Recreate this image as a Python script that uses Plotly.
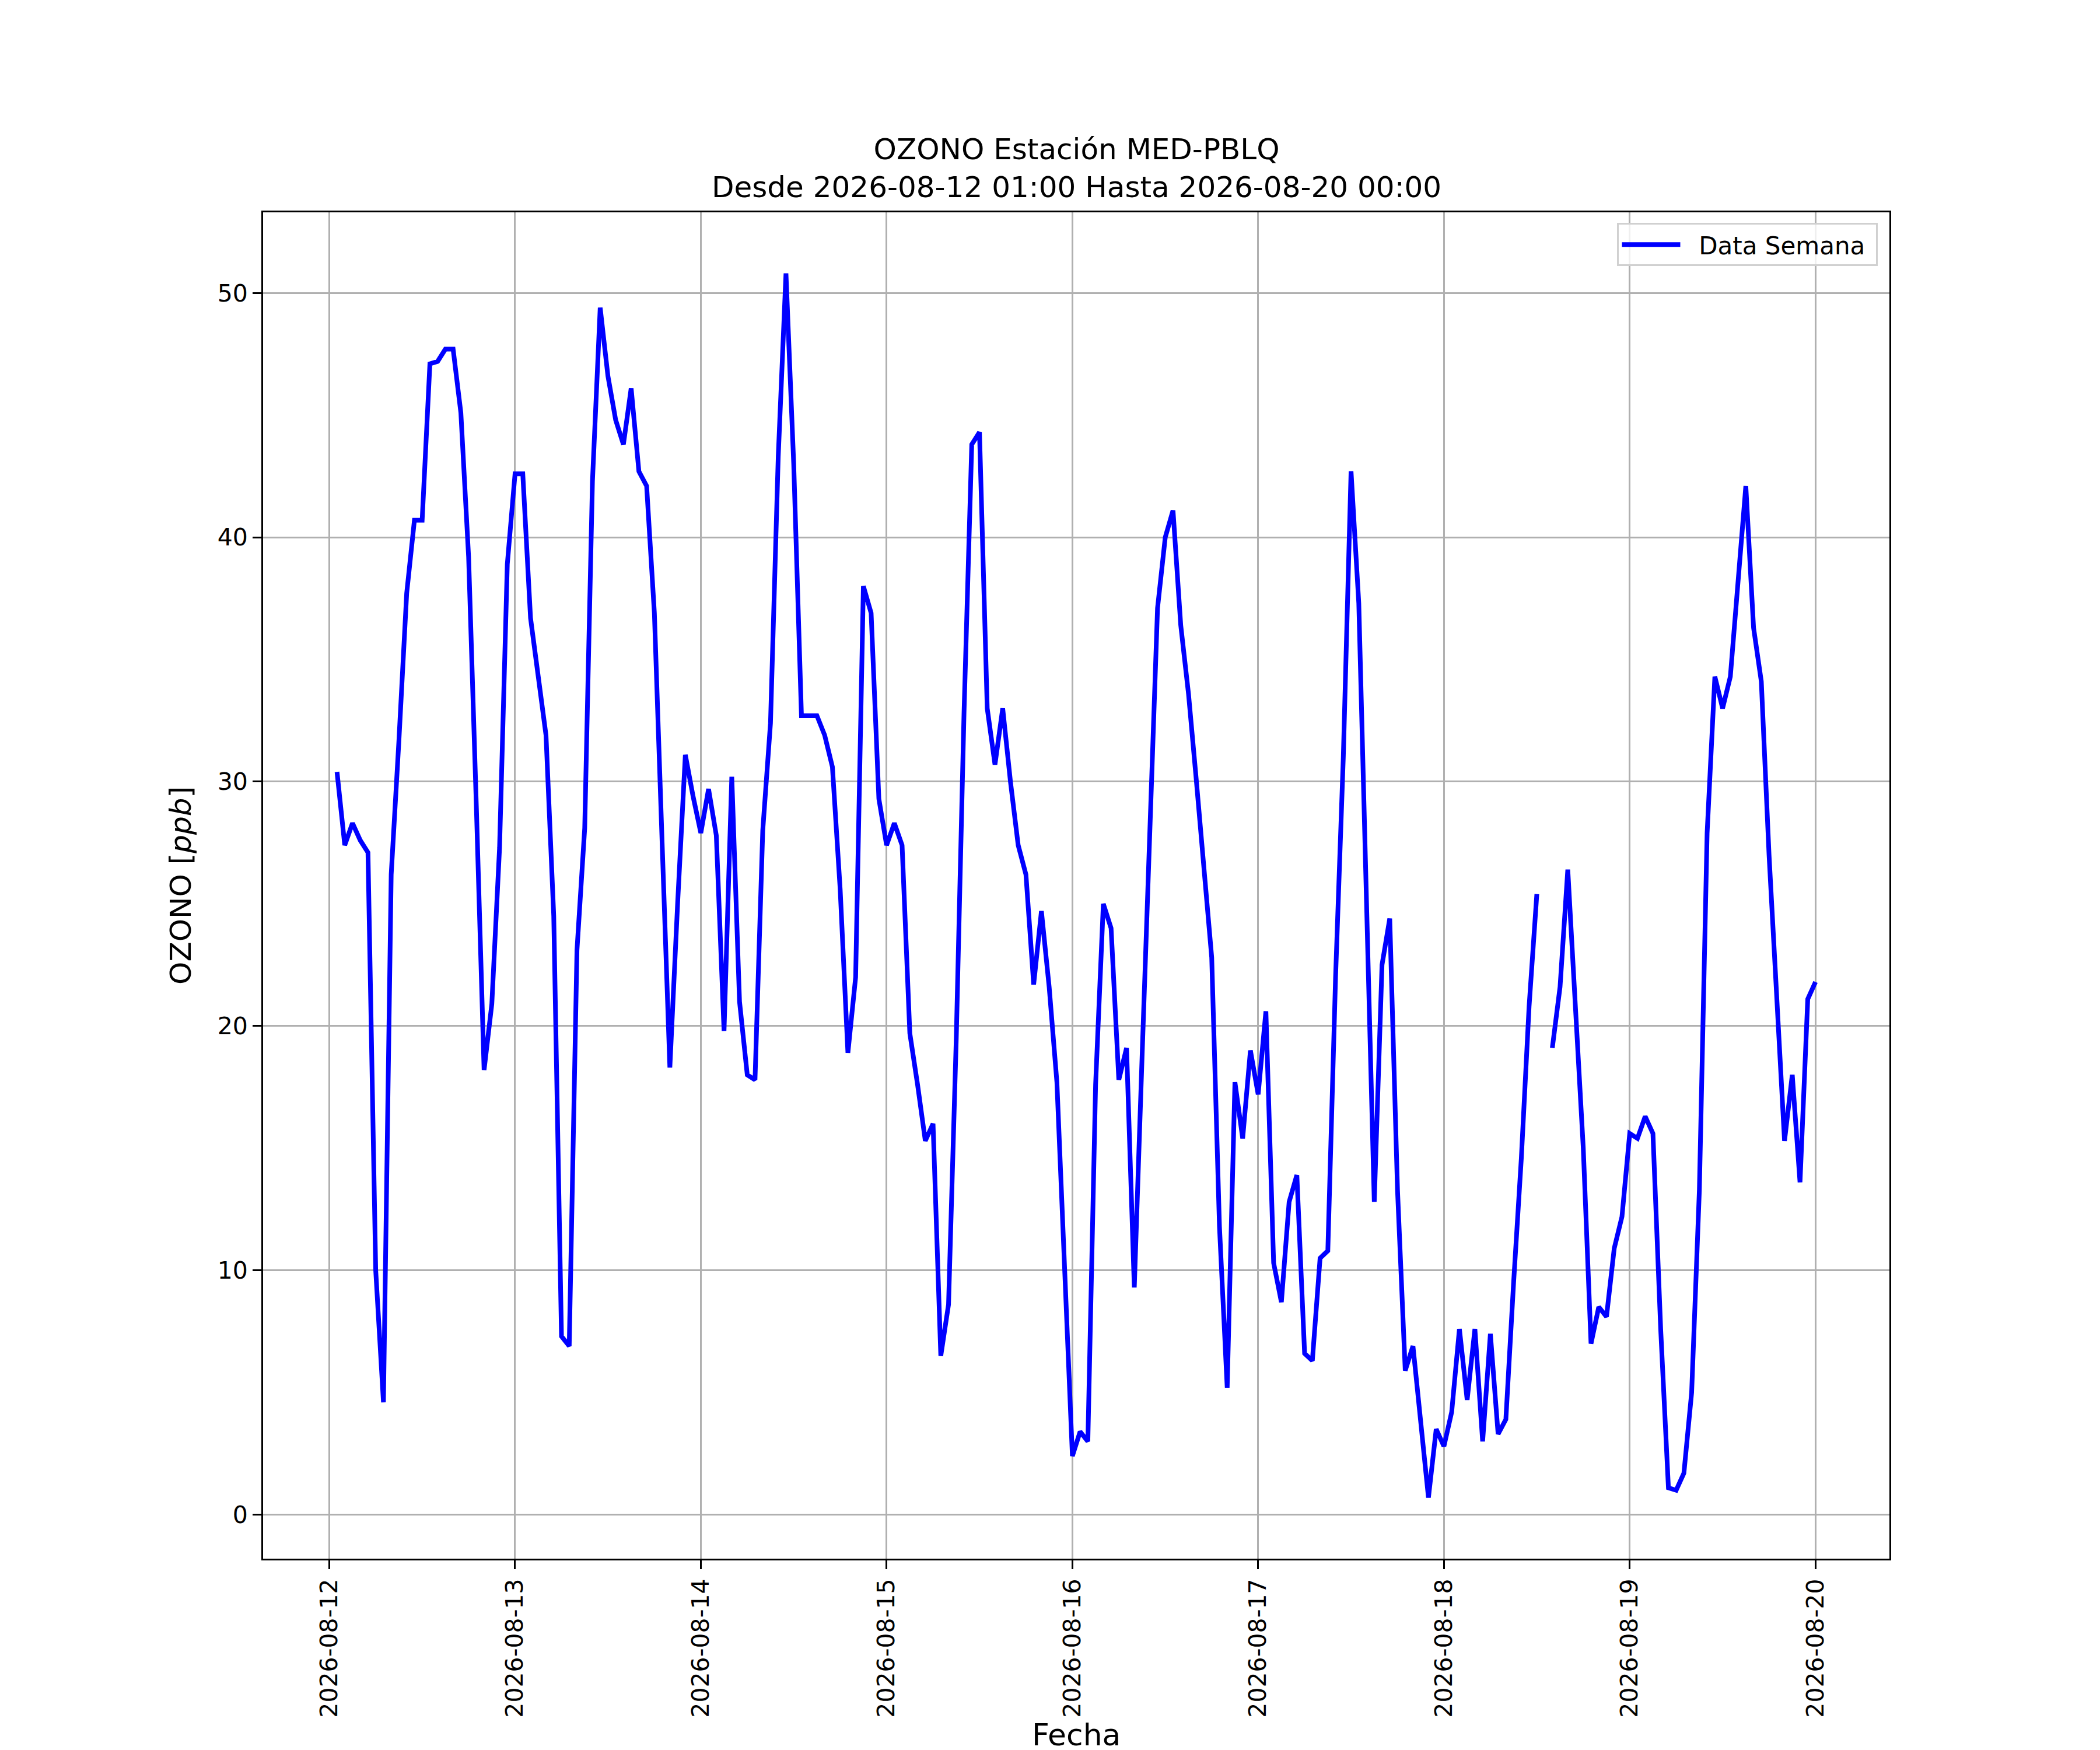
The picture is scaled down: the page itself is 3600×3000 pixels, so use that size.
import plotly.graph_objects as go
import pandas as pd

start = "2026-08-12 01:00"
# Hourly ozone values (ppb) from 2026-08-12 01:00 to 2026-08-20 00:00
day12 = [30.4, 27.4, 28.3, 27.6, 27.1, 10.0, 4.6, 26.2, 31.7, 37.7, 40.7, 40.7,
         47.1, 47.2, 47.7, 47.7, 45.1, 39.2, 29.0, 18.2, 20.9, 27.3, 38.9]
day13 = [42.6, 42.6, 36.7, 34.3, 31.9, 24.5, 7.3, 6.9, 23.1, 28.1, 42.3, 49.4,
         46.6, 44.8, 43.8, 46.1, 42.7, 42.1, 36.9, 27.5, 18.3, 25.0, 31.1, 29.4]
day14 = [27.9, 29.7, 27.8, 19.8, 30.2, 21.0, 18.0, 17.8, 28.0, 32.4, 43.3, 50.8,
         43.0, 32.7, 32.7, 32.7, 31.9, 30.6, 25.6, 18.9, 22.0, 38.0, 36.9, 29.3]
day15 = [27.4, 28.3, 27.4, 19.7, 17.6, 15.3, 16.0, 6.5, 8.6, 19.5, 32.8, 43.8,
         44.3, 33.0, 30.7, 33.0, 30.0, 27.4, 26.2, 21.7, 24.7, 21.6, 17.7, 10.1]
day16 = [2.4, 3.4, 3.0, 17.6, 25.0, 24.0, 17.8, 19.1, 9.3, 18.7, 27.9, 37.1,
         40.0, 41.1, 36.4, 33.6, 30.1, 26.5, 22.8, 11.8, 5.2, 17.7, 15.4, 19.0]
day17 = [17.2, 20.6, 10.3, 8.7, 12.8, 13.9, 6.6, 6.3, 10.5, 10.8, 22.0, 31.0,
         42.7, 37.3, 24.5, 12.8, 22.5, 24.4, 13.3, 5.9, 6.9, 3.7, 0.7, 3.5]
day18 = [2.8, 4.2, 7.6, 4.7, 7.6, 3.0, 7.4, 3.3, 3.9, 9.5, 14.6, 20.8,
         25.4, None, 19.1, 21.6, 26.4, 20.9, 15.0, 7.0, 8.5, 8.1, 10.9, 12.2]
day19 = [15.6, 15.4, 16.3, 15.6, 7.6, 1.1, 1.0, 1.7, 5.0, 13.3, 27.9, 34.3,
         33.0, 34.3, 38.0, 42.1, 36.3, 34.1, 27.0, 20.8, 15.3, 18.0, 13.6, 21.1]
day20 = [21.8]

values = day12 + day13 + day14 + day15 + day16 + day17 + day18 + day19 + day20
times = pd.date_range(start, periods=len(values), freq="h")

tick_dates = ["2026-08-12", "2026-08-13", "2026-08-14", "2026-08-15", "2026-08-16",
              "2026-08-17", "2026-08-18", "2026-08-19", "2026-08-20"]
y_ticks = [0, 10, 20, 30, 40, 50]

FONT = "DejaVu Sans"
fig = go.Figure()
fig.add_trace(go.Scatter(x=times, y=values, mode="lines", name="  Data Semana ",
                         line=dict(color="#0000ff", width=8), connectgaps=False))

fig.update_layout(
    width=3600, height=3000,
    paper_bgcolor="white", plot_bgcolor="white",
    margin=dict(l=443, r=369, t=356, b=336),
    font=dict(family=FONT, size=41, color="black"),
    showlegend=True,
    legend=dict(x=0.993, y=0.992, xanchor="right", yanchor="top",
                bgcolor="rgba(255,255,255,0.8)", bordercolor="#d0d0d0", borderwidth=3,
                itemwidth=100, tracegroupgap=0,
                font=dict(family=FONT, size=42)),
    annotations=[
        dict(text="OZONO Estación MED-PBLQ<br>Desde 2026-08-12 01:00 Hasta 2026-08-20 00:00",
             xref="paper", yref="paper", x=0.5, y=1, xanchor="center", yanchor="bottom",
             yshift=12, showarrow=False, font=dict(family=FONT, size=50)),
        dict(text="Fecha", xref="paper", yref="paper", x=0.5, y=0, xanchor="center",
             yanchor="top", yshift=-270, showarrow=False, font=dict(family=FONT, size=52)),
    ],
)
fig.update_xaxes(
    type="date",
    range=["2026-08-11 15:27", "2026-08-20 09:33"],
    tickvals=tick_dates, ticktext=tick_dates,
    tickangle=-90, ticks="outside", ticklen=15, tickwidth=3, tickcolor="black",
    showgrid=True, gridcolor="#b0b0b0", gridwidth=3,
    showline=True, linecolor="black", linewidth=3, mirror=True,
    zeroline=False,
    tickfont=dict(family=FONT, size=41),
)
fig.update_yaxes(
    range=[-1.8, 53.3],
    tickvals=y_ticks, ticks="outside", ticklen=15, tickwidth=3, tickcolor="black",
    showgrid=True, gridcolor="#b0b0b0", gridwidth=3,
    showline=True, linecolor="black", linewidth=3, mirror=True,
    zeroline=False,
    title=dict(text="OZONO [<i>ppb</i>]", font=dict(family=FONT, size=50), standoff=30),
    tickfont=dict(family=FONT, size=41),
)

fig.write_html("out.html")
